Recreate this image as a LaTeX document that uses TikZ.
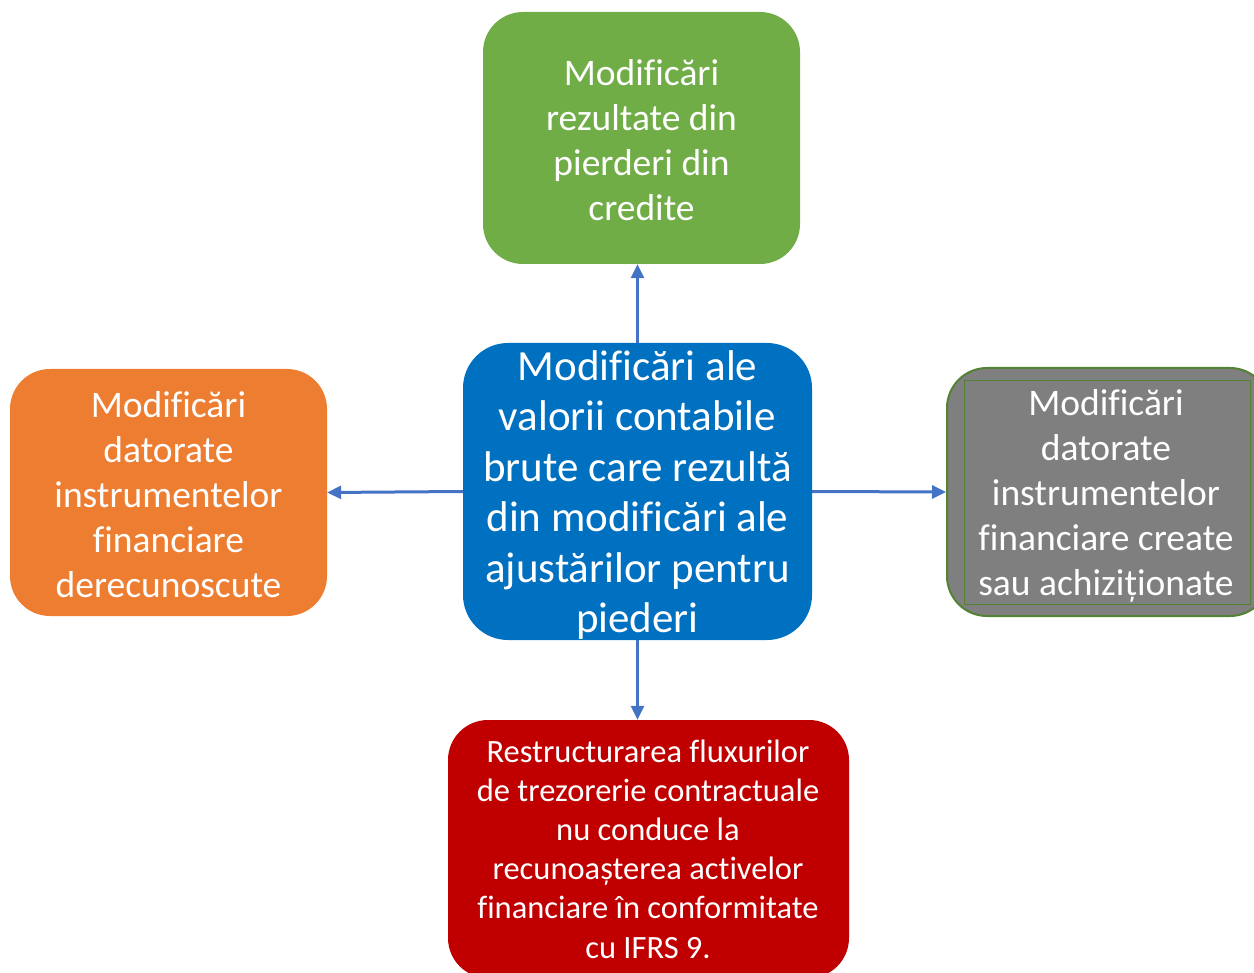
\documentclass[tikz,border=0pt]{standalone}
\usepackage{fontspec}
\setmainfont{Carlito}[Ligatures=NoCommon]
\usetikzlibrary{arrows.meta}
\definecolor{cgreen}{HTML}{70AD47}
\definecolor{cblue}{HTML}{0070C0}
\definecolor{corange}{HTML}{ED7D31}
\definecolor{cgray}{HTML}{7F7F7F}
\definecolor{cgborder}{HTML}{548235}
\definecolor{cred}{HTML}{C00000}
\definecolor{carrow}{HTML}{4472C4}
\tikzset{
  box/.style={rounded corners=40pt, inner sep=0pt, text=white, align=center, draw=none},
  bigtxt/.style={font=\fontsize{43}{50.5}\selectfont},
  midtxt/.style={font=\fontsize{37.5}{45}\selectfont},
  smalltxt/.style={font=\fontsize{32.5}{39.2}\selectfont},
  conn/.style={draw=carrow, line width=3pt, -{Triangle[length=14pt,width=13pt]}}
}
\begin{document}
\begin{tikzpicture}[x=1pt,y=-1pt]
\useasboundingbox (0,0) rectangle (1254,973);
\node[box, fill=cgreen, minimum width=317pt, minimum height=252pt] (green) at (641.5,138) {};
\node[text=white, align=center, inner sep=0pt, midtxt] (greentext) at (641.5,140) {Modificări\\rezultate din\\pierderi din\\credite};
\node[box, fill=cblue, rounded corners=45pt, minimum width=349pt, minimum height=297pt] (center) at (637.5,491.5) {};
\node[text=white, align=center, inner sep=0pt, bigtxt] (centertext) at (637.5,495) {Modificări ale\\valorii contabile\\brute care rezultă\\din modificări ale\\ajustărilor pentru\\piederi};
\node[box, fill=corange, minimum width=317pt, minimum height=247pt] (orange) at (168.5,492.5) {};
\node[text=white, align=center, inner sep=0pt, midtxt] (orangetext) at (168.5,494.5) {Modificări\\datorate\\instrumentelor\\financiare\\derecunoscute};
\node[box, fill=cgray, draw=cgborder, line width=2pt, minimum width=323pt, minimum height=248pt] (gray) at (1108.5,492) {};
\node[draw=cgborder, line width=1pt, inner sep=0pt, minimum width=286pt, minimum height=223pt] (grayin) at (1107,492.5) {};
\node[text=white, align=center, inner sep=0pt, midtxt] (graytext) at (1106,495.5) {Modificări\\datorate\\instrumentelor\\financiare create\\sau achiziționate};
\node[box, fill=cred, minimum width=401pt, minimum height=258pt] (red) at (648.5,849) {};
\node[text=white, align=center, inner sep=0pt, smalltxt] (redtext) at (648,849) {Restructurarea fluxurilor\\de trezorerie contractuale\\nu conduce la\\recunoașterea activelor\\financiare în conformitate\\cu IFRS 9.};
\draw[conn] (center.north) -- (center.north |- green.south);
\draw[conn] (center.west) -- (orange.east);
\draw[conn] (center.east) -- (gray.west);
\draw[conn] (center.south) -- (center.south |- red.north);
\end{tikzpicture}
\end{document}
